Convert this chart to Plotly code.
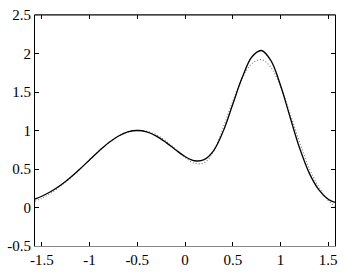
import plotly.graph_objects as go

x_vals = [-1.5708, -1.5, -1.4, -1.3, -1.2, -1.1, -1.0, -0.9, -0.8, -0.7, -0.6, -0.5,
          -0.4, -0.3, -0.2, -0.1, 0.0, 0.1, 0.2, 0.3, 0.4, 0.5, 0.6, 0.7, 0.8, 0.9,
          1.0, 1.1, 1.2, 1.3, 1.4, 1.5, 1.5708]

solid_vals = [0.110, 0.146, 0.211, 0.292, 0.390, 0.500, 0.618, 0.735, 0.841, 0.926, 0.981, 1.000,
              0.981, 0.927, 0.846, 0.751, 0.662, 0.607, 0.622, 0.740, 0.990, 1.340, 1.690, 1.955, 2.039, 1.907,
              1.588, 1.175, 0.772, 0.450, 0.233, 0.107, 0.065]

dotted_vals = [0.080, 0.120, 0.190, 0.280, 0.385, 0.500, 0.618, 0.735, 0.840, 0.925, 0.980, 1.003,
               0.990, 0.945, 0.865, 0.760, 0.650, 0.575, 0.580, 0.730, 1.040, 1.380, 1.680, 1.870, 1.920, 1.820,
               1.570, 1.220, 0.850, 0.510, 0.270, 0.090, 0.015]

x_ticks = [-1.5, -1, -0.5, 0, 0.5, 1, 1.5]
x_tick_text = ["-1.5", "-1", "-0.5", "0", "0.5", "1", "1.5"]
y_ticks = [-0.5, 0, 0.5, 1, 1.5, 2, 2.5]
y_tick_text = ["-0.5", "0", "0.5", "1", "1.5", "2", "2.5"]

fig = go.Figure()
fig.add_trace(go.Scatter(x=x_vals, y=dotted_vals, mode="lines",
                         line=dict(color="#777777", width=1.1, dash="1px,2px", shape="spline"),
                         showlegend=False))
fig.add_trace(go.Scatter(x=x_vals, y=solid_vals, mode="lines",
                         line=dict(color="black", width=1.3, shape="spline"),
                         showlegend=False))

font = dict(family="Liberation Serif", size=15, color="black")
fig.update_layout(
    width=344, height=275,
    margin=dict(l=31, r=7, t=13, b=23),
    paper_bgcolor="white", plot_bgcolor="white",
    font=font,
    xaxis=dict(range=[-1.5708, 1.5708], tickvals=x_ticks, ticktext=x_tick_text,
               showgrid=False, zeroline=False, showline=True, linecolor="#888888",
               linewidth=1.3, mirror="allticks", ticks="inside", ticklen=4,
               tickcolor="black", tickfont=font),
    yaxis=dict(range=[-0.5, 2.5], tickvals=y_ticks, ticktext=y_tick_text,
               showgrid=False, zeroline=False, showline=True, linecolor="black",
               linewidth=1, mirror="allticks", ticks="inside", ticklen=4,
               tickcolor="black", tickfont=font),
)
fig.add_shape(type="line", xref="paper", yref="paper", x0=0, x1=1, y0=1, y1=1,
              line=dict(color="black", width=1))
fig.write_html("out.html")
